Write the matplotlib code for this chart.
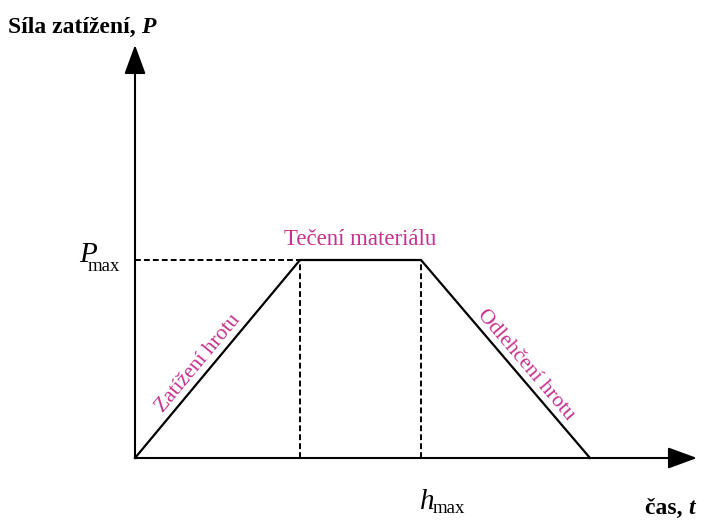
import numpy as np
import matplotlib.pyplot as plt

plt.rcParams['font.family'] = ['Liberation Serif', 'DejaVu Serif']

# load profile (time in px-like units, force relative to Pmax)
t = [0, 165, 286, 455]
P = [0, 1, 1, 0]
t_end = 562      # end of time axis
P_top = 2.086    # end of force axis

pink = '#c6318e'

fig = plt.figure(figsize=(7.07, 5.30), dpi=100)
ax = fig.add_axes([0, 0, 1, 1])
ax.set_xlim(-135, 572)
ax.set_ylim(-72 / 198, 458 / 198)
ax.axis('off')

# axes with arrows
arr = dict(arrowstyle='-|>,head_length=0.9,head_width=0.33', mutation_scale=20,
           lw=1.5, color='black', shrinkA=0, shrinkB=0)
ax.annotate('', xy=(0, P_top), xytext=(0, 0), arrowprops=arr)
ax.annotate('', xy=(t_end, 0), xytext=(0, 0), arrowprops=arr)

# trapezoid
ax.plot(t, P, color='black', lw=1.6, solid_joinstyle='miter')

# dashed guides
dash = dict(color='black', lw=1.4, ls=(0, (3, 1.6)))
ax.plot([0, t[1]], [P[1], P[1]], **dash)
ax.plot([t[1], t[1]], [0, P[1]], **dash)
ax.plot([t[2], t[2]], [0, P[2]], **dash)

# axis titles
lab = ax.text(8, 497, 'Síla zatížení, ', transform=None, fontsize=17,
              fontweight='bold', va='baseline', ha='left')
ax.annotate('P', xy=(1, 0), xycoords=lab, va='bottom', ha='left', fontsize=17,
            fontweight='bold', style='italic')
lab2 = ax.text(645, 16, 'čas, ', transform=None, fontsize=17,
               fontweight='bold', va='baseline', ha='left')
ax.annotate('t', xy=(1, 0), xycoords=lab2, va='bottom', ha='left', fontsize=17,
            fontweight='bold', style='italic')

# tick-like labels
ax.annotate('P', xy=(0, P[1]), xytext=(-38, -2), textcoords='offset pixels',
            ha='right', va='baseline', fontsize=21, style='italic')
ax.annotate('max', xy=(0, P[1]), xytext=(-15, -11), textcoords='offset pixels',
            ha='right', va='baseline', fontsize=13.5)
ax.annotate('h', xy=(t[2], 0), xytext=(-1, -51), textcoords='offset pixels',
            ha='left', va='baseline', fontsize=21, style='italic')
ax.annotate('max', xy=(t[2], 0), xytext=(12, -55), textcoords='offset pixels',
            ha='left', va='baseline', fontsize=13.5)

# phase labels
ax.annotate('Tečení materiálu', xy=((t[1] + t[2]) / 2, P[1]), xytext=(0, 15),
            textcoords='offset pixels', ha='center', va='baseline',
            fontsize=16.5, color=pink)
ax.annotate('Zatížení hrotu', xy=(t[1] / 2, P[1] / 2), xytext=(-19, -5),
            textcoords='offset pixels', ha='center', va='center',
            fontsize=15.5, color=pink, rotation=50.2, rotation_mode='anchor')
ax.annotate('Odlehčení hrotu', xy=((t[2] + t[3]) / 2, P[1] / 2), xytext=(20, -6),
            textcoords='offset pixels', ha='center', va='center',
            fontsize=15.5, color=pink, rotation=-49.5, rotation_mode='anchor')

fig.savefig('out.png', dpi=100)
